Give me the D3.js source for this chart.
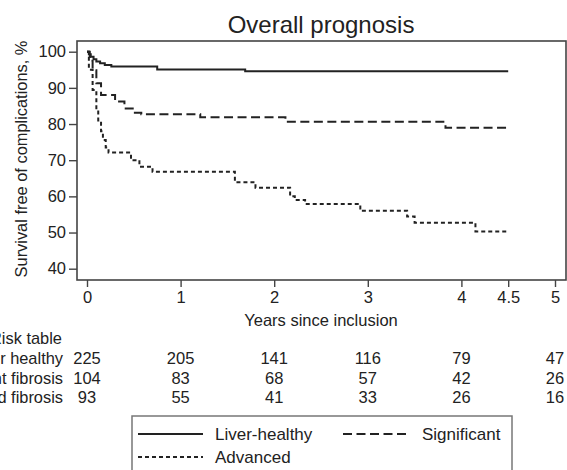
<!DOCTYPE html>
<html><head><meta charset="utf-8">
<script src="https://cdn.jsdelivr.net/npm/d3@7"></script>
<style>
html,body{margin:0;padding:0;background:#fff;}
svg{display:block;font-family:"Liberation Sans",Arial,Helvetica,sans-serif;}
</style></head>
<body>
<svg id="chart" width="567" height="470"></svg>
<script>
// ---- Data ----
const title = "Overall prognosis";
const xTicks = [0, 1, 2, 3, 4, 4.5, 5];
const yTicks = [40, 50, 60, 70, 80, 90, 100];
const endTime = 4.5;
// Kaplan-Meier steps: [years, survival %]
const liverHealthy = [[0,100],[0.02,99.3],[0.04,98.6],[0.07,97.9],[0.1,97.3],[0.14,96.8],[0.19,96.3],[0.26,95.9],[0.75,95.1],[1.69,94.6]];
const significant = [[0,100],[0.03,97.5],[0.06,94.9],[0.1,91.3],[0.15,88.0],[0.3,86.2],[0.4,84.3],[0.5,83.1],[0.58,82.7],[1.21,81.9],[2.12,80.6],[3.83,79.0]];
const advanced = [[0,100],[0.02,95],[0.06,89.4],[0.1,84],[0.12,81],[0.15,78],[0.17,75.6],[0.2,73.5],[0.23,72.1],[0.47,70.0],[0.56,68.2],[0.7,66.8],[1.58,63.9],[1.8,62.4],[2.17,60.0],[2.22,59.0],[2.33,57.9],[2.92,56.0],[3.42,54.4],[3.5,52.7],[4.15,50.3]];
const seriesNames = ["Liver-healthy", "Significant", "Advanced"];
const riskLabels = ["Liver healthy", "Significant fibrosis", "Advanced fibrosis"];
const riskTimes = [0, 1, 2, 3, 4, 5];
const riskLiver = [225, 205, 141, 116, 79, 47];
const riskSignificant = [104, 83, 68, 57, 42, 26];
const riskAdvanced = [93, 55, 41, 33, 26, 16];

// ---- Drawing ----
const svg = d3.select("#chart");
const ink = "#222";
const x = d3.scaleLinear().domain([0, 5]).range([87, 555]);
const y = d3.scaleLinear().domain([40, 100]).range([268.7, 51.7]);
const frame = {l: 77, t: 41, r: 566, b: 280};
const dashes = ["none", "9,4.5", "4,3"];

// frame
svg.append("rect").attr("x", frame.l).attr("y", frame.t)
  .attr("width", frame.r - frame.l).attr("height", frame.b - frame.t)
  .attr("fill", "none").attr("stroke", "#444").attr("stroke-width", 1.6);

// axes
const yAxis = d3.axisLeft(y).tickValues(yTicks).tickSize(8).tickPadding(3);
const gy = svg.append("g").attr("transform", `translate(${frame.l},0)`).call(yAxis);
gy.select(".domain").remove();
const xAxis = d3.axisBottom(x).tickValues(xTicks).tickSize(7).tickPadding(4)
  .tickFormat(d => d === 4.5 ? "4.5" : d3.format("d")(d));
const gx = svg.append("g").attr("transform", `translate(0,${frame.b})`).call(xAxis);
gx.select(".domain").remove();
[gx, gy].forEach(g => {
  g.selectAll("line").attr("stroke", "#444").attr("stroke-width", 1.4);
  g.selectAll("text").attr("fill", ink).style("font-size", "16.5px")
   .style("font-family", "'Liberation Sans',Arial,sans-serif");
});

// title and axis labels
svg.append("text").attr("x", 321).attr("y", 33).attr("text-anchor", "middle")
  .attr("fill", ink).style("font-size", "24px").text(title);
svg.append("text").attr("transform", "translate(27,159) rotate(-90)")
  .attr("text-anchor", "middle").attr("fill", ink).style("font-size", "16.4px")
  .text("Survival free of complications, %");
svg.append("text").attr("x", 321).attr("y", 326).attr("text-anchor", "middle")
  .attr("fill", ink).style("font-size", "16.5px").text("Years since inclusion");

// curves
const line = d3.line().x(d => x(d[0])).y(d => y(d[1])).curve(d3.curveStepAfter);
[liverHealthy, significant, advanced].forEach((s, i) => {
  const pts = s.concat([[endTime, s[s.length - 1][1]]]);
  svg.append("path").attr("d", line(pts)).attr("fill", "none")
    .attr("stroke", ink).attr("stroke-width", 2)
    .attr("stroke-dasharray", dashes[i]);
});

// risk table
svg.append("text").attr("x", -10).attr("y", 344).attr("fill", ink)
  .style("font-size", "16.4px").text("Risk table");
const rowY = [364, 383.5, 403];
[riskLiver, riskSignificant, riskAdvanced].forEach((vals, r) => {
  svg.append("text").attr("x", 63).attr("y", rowY[r]).attr("text-anchor", "end")
    .attr("fill", ink).style("font-size", "16.4px").text(riskLabels[r]);
  svg.selectAll(null).data(vals).enter().append("text")
    .attr("x", (d, i) => x(riskTimes[i])).attr("y", rowY[r])
    .attr("text-anchor", "middle").attr("fill", ink).style("font-size", "16.5px")
    .text(d => d);
});

// legend
svg.append("rect").attr("x", 132).attr("y", 416).attr("width", 380).attr("height", 70)
  .attr("fill", "#fff").attr("stroke", "#777").attr("stroke-width", 1.5);
const legItems = [
  {x: 138, y: 434, i: 0},
  {x: 343, y: 434, i: 1},
  {x: 138, y: 457, i: 2}
];
legItems.forEach(it => {
  svg.append("line").attr("x1", it.x).attr("x2", it.x + 65)
    .attr("y1", it.y).attr("y2", it.y).attr("stroke", ink).attr("stroke-width", 2)
    .attr("stroke-dasharray", dashes[it.i]);
  svg.append("text").attr("x", it.x + (it.i === 1 ? 79 : 77)).attr("y", it.y + 6)
    .attr("fill", ink).style("font-size", "17px").text(seriesNames[it.i]);
});
</script>
</body></html>
